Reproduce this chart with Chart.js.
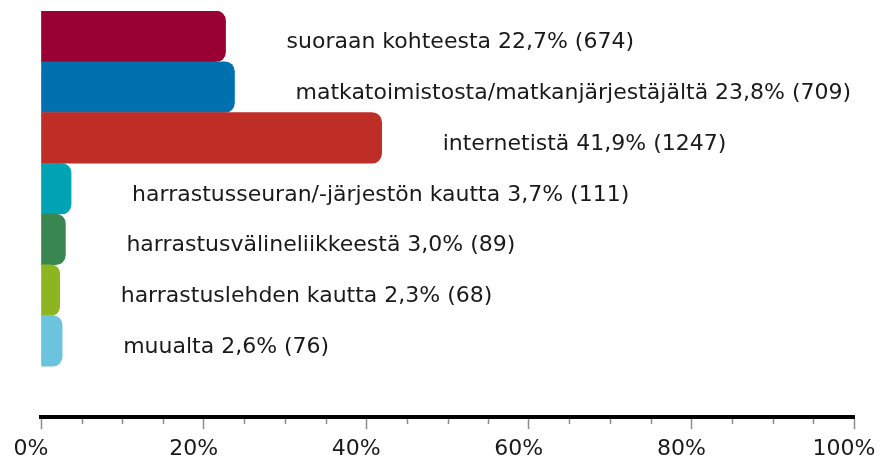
<!DOCTYPE html>
<html>
<head>
<meta charset="utf-8">
<script src="https://cdn.jsdelivr.net/npm/chart.js@4.4.1/dist/chart.umd.min.js"></script>
<style>
  html, body { margin: 0; padding: 0; background: #fff; }
  #wrap { width: 879px; height: 461px; position: relative; }
</style>
</head>
<body>
<div id="wrap"><canvas id="c" width="879" height="461"></canvas></div>
<script>
const categories = [
  "suoraan kohteesta",
  "matkatoimistosta/matkanjärjestäjältä",
  "internetistä",
  "harrastusseuran/-järjestön kautta",
  "harrastusvälineliikkeestä",
  "harrastuslehden kautta",
  "muualta"
];
const percentages = [22.7, 23.8, 41.9, 3.7, 3.0, 2.3, 2.6];
const counts = [674, 709, 1247, 111, 89, 68, 76];
const barColors = ["#990033", "#0070AE", "#BE2D26", "#00A3B4", "#3A8650", "#8DB520", "#6CC3DE"];
const xTickValues = [0, 20, 40, 60, 80, 100];
const minorTickValues = [5, 10, 15, 25, 30, 35, 45, 50, 55, 65, 70, 75, 85, 90, 95];

const FONT = "'DejaVu Sans', sans-serif";

const labelPlugin = {
  id: 'barLabels',
  afterDatasetsDraw(chart) {
    const ctx = chart.ctx;
    const meta = chart.getDatasetMeta(0);
    ctx.save();
    ctx.font = "22px " + FONT;
    ctx.fillStyle = "#1a1a1a";
    ctx.textAlign = "left";
    ctx.textBaseline = "alphabetic";
    meta.data.forEach((bar, i) => {
      if (i >= categories.length) return;
      const txt = categories[i] + " " + percentages[i].toFixed(1).replace('.', ',') + "% (" + counts[i] + ")";
      ctx.fillText(txt, bar.x + 61, bar.y + 12);
    });
    ctx.restore();
  }
};

const minorTickPlugin = {
  id: 'minorTicks',
  afterDraw(chart) {
    const xs = chart.scales.x;
    const ctx = chart.ctx;
    const y0 = chart.chartArea.bottom;
    ctx.save();
    ctx.strokeStyle = "#8c8c8c";
    ctx.lineWidth = 1.5;
    minorTickValues.forEach(v => {
      const px = Math.round(xs.getPixelForValue(v)) + 0.5;
      ctx.beginPath();
      ctx.moveTo(px, y0 + 2);
      ctx.lineTo(px, y0 + 7);
      ctx.stroke();
    });
    ctx.restore();
  }
};

new Chart(document.getElementById('c'), {
  type: 'bar',
  data: {
    labels: [...categories, ""],
    datasets: [{
      data: percentages,
      backgroundColor: barColors,
      borderWidth: 0,
      borderSkipped: false,
      borderRadius: { topLeft: 0, bottomLeft: 0, topRight: 10, bottomRight: 10 },
      barPercentage: 1,
      categoryPercentage: 1
    }]
  },
  options: {
    indexAxis: 'y',
    responsive: false,
    animation: false,
    layout: { padding: { left: 41, top: 11, right: 25, bottom: 0 } },
    plugins: { legend: { display: false }, tooltip: { enabled: false } },
    scales: {
      y: { display: false },
      x: {
        type: 'linear',
        min: 0, max: 100,
        afterBuildTicks: s => { s.ticks = xTickValues.map(v => ({ value: v })); },
        afterFit: s => { s.paddingRight = 25; s.paddingLeft = 0; s.height = 44; },
        border: { display: true, color: '#000', width: 4 },
        grid: { drawOnChartArea: false, drawTicks: true, tickLength: 12, tickColor: '#8c8c8c', tickWidth: 1.5 },
        ticks: {
          padding: 7,
          labelOffset: -10,
          color: '#1a1a1a',
          font: { family: FONT, size: 22 },
          callback: v => v + '%',
          maxRotation: 0
        }
      }
    }
  },
  plugins: [labelPlugin, minorTickPlugin]
});
</script>
</body>
</html>
